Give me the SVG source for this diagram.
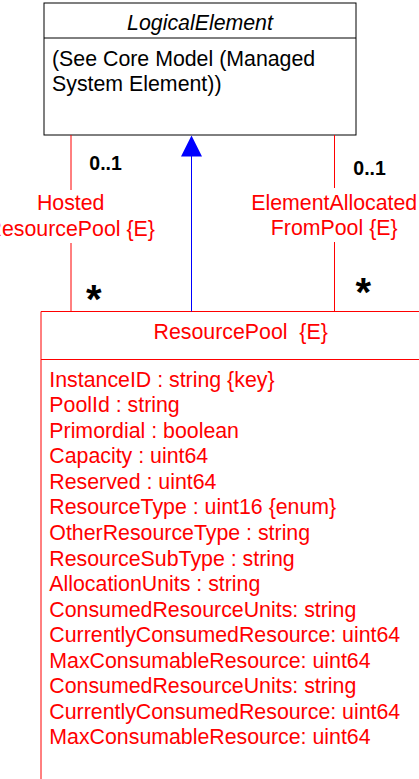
<svg xmlns="http://www.w3.org/2000/svg" width="419" height="779" viewBox="0 0 419 779">
<style>
.t{font-family:"Liberation Sans",Arial,sans-serif;font-size:21.33px}
.blk{fill:#000}
.red{fill:#ff0000}
.mult{font-family:"Liberation Sans",Arial,sans-serif;font-size:19.5px;font-weight:bold;fill:#000}
.star{font-family:"Liberation Sans",Arial,sans-serif;font-size:40px;font-weight:bold;fill:#000}
.frame{fill:#fff;stroke:#000;stroke-width:1}
.rframe{fill:#fff;stroke:#ff0000;stroke-width:1}
.assoc{stroke:#ff0000;stroke-width:1;fill:none}
.gen{stroke:#0000ff;stroke-width:1;fill:none}
</style>
<rect width="419" height="779" fill="#fff"/>
<g id="LogicalElement">
<rect class="frame" x="44" y="3" width="312" height="132"/>
<line x1="44" y1="38" x2="356" y2="38" stroke="#000" stroke-width="1"/>
<text class="t blk" x="200" y="30" text-anchor="middle" font-style="italic">LogicalElement</text>
<text class="t blk" x="52" y="66">(See Core Model (Managed</text>
<text class="t blk" x="52" y="91">System Element))</text>
</g>
<g id="ResourcePool">
<path class="rframe" d="M41,779 V311.5 H420"/>
<line x1="41" y1="359.5" x2="420" y2="359.5" stroke="#ff0000" stroke-width="1"/>
<text class="t red" x="240.7" y="339.3" text-anchor="middle" xml:space="preserve">ResourcePool  {E}</text>
<text class="t red" x="49.3" y="386.7">InstanceID : string {key}</text>
<text class="t red" x="49.3" y="412.2">PoolId : string</text>
<text class="t red" x="49.3" y="437.8">Primordial : boolean</text>
<text class="t red" x="49.3" y="463.3">Capacity : uint64</text>
<text class="t red" x="49.3" y="488.9">Reserved : uint64</text>
<text class="t red" x="49.3" y="514.4">ResourceType : uint16 {enum}</text>
<text class="t red" x="49.3" y="540">OtherResourceType : string</text>
<text class="t red" x="49.3" y="565.5">ResourceSubType : string</text>
<text class="t red" x="49.3" y="591">AllocationUnits : string</text>
<text class="t red" x="49.3" y="616.6">ConsumedResourceUnits: string</text>
<text class="t red" x="49.3" y="642.1">CurrentlyConsumedResource: uint64</text>
<text class="t red" x="49.3" y="667.7">MaxConsumableResource: uint64</text>
<text class="t red" x="49.3" y="693.2">ConsumedResourceUnits: string</text>
<text class="t red" x="49.3" y="718.7">CurrentlyConsumedResource: uint64</text>
<text class="t red" x="49.3" y="744.3">MaxConsumableResource: uint64</text>
</g>
<g id="connectors">
<g id="HostedResourcePool">
<line class="assoc" x1="71" y1="135" x2="71" y2="190"/>
<line class="assoc" x1="71" y1="243" x2="71" y2="311.5"/>
<text class="t red" x="70.7" y="210" text-anchor="middle">Hosted</text>
<text class="t red" x="70.7" y="235.7" text-anchor="middle">ResourcePool {E}</text>
<text class="mult" x="89.3" y="169.5">0..1</text>
<text class="star" x="86" y="313">*</text>
</g>
<g id="ElementAllocatedFromPool">
<line class="assoc" x1="334.5" y1="135" x2="334.5" y2="188"/>
<line class="assoc" x1="334.5" y1="242" x2="334.5" y2="311.5"/>
<text class="t red" x="334.2" y="209.5" text-anchor="middle">ElementAllocated</text>
<text class="t red" x="334.2" y="234.5" text-anchor="middle">FromPool {E}</text>
<text class="mult" x="353.3" y="175">0..1</text>
<text class="star" x="355.4" y="306">*</text>
</g>
<g id="Generalization">
<line class="gen" x1="191.5" y1="156" x2="191.5" y2="311.5"/>
<polygon points="191.5,135.5 181,156.5 202,156.5" fill="#0000ff"/>
</g>
</g>
</svg>
